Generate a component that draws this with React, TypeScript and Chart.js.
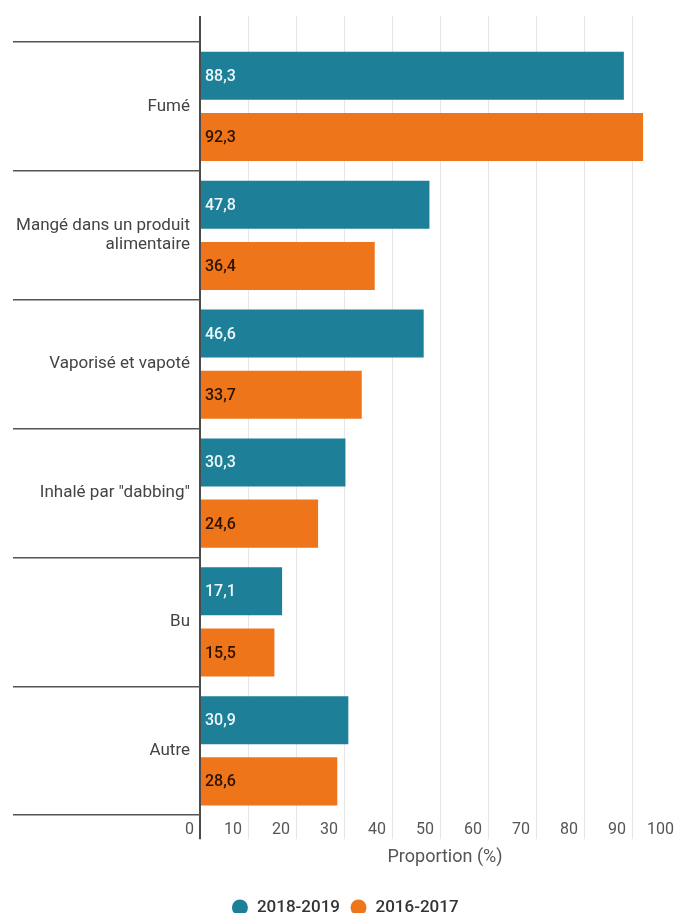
import React, { useEffect, useRef } from 'react';
import { Chart, registerables } from 'chart.js';

Chart.register(...registerables);

const CATEGORIES: (string | string[])[] = [
  'Fumé',
  ['Mangé dans un produit', 'alimentaire'],
  'Vaporisé et vapoté',
  'Inhalé par "dabbing"',
  'Bu',
  'Autre',
];
const SERIES_NAMES = ['2018-2019', '2016-2017'];
const VALUES_2018_2019 = [88.3, 47.8, 46.6, 30.3, 17.1, 30.9];
const VALUES_2016_2017 = [92.3, 36.4, 33.7, 24.6, 15.5, 28.6];
const X_TICKS = [0, 10, 20, 30, 40, 50, 60, 70, 80, 90, 100];
const X_MIN = 0;
const X_MAX = 102.08;
const AXIS_TITLE = 'Proportion (%)';

const TEAL = '#1e7f98';
const ORANGE = '#ee7519';
const LABEL_COLORS = ['#eef8fa', '#2a1300'];
const DARK_LINE = '#4a4a4a';
const LIGHT_LINE = '#e6e6e6';
const FONT = 'Roboto';

const fmt = (v: number) => v.toFixed(1).replace('.', ',');

const barLabelPlugin = {
  id: 'barLabels',
  afterDatasetsDraw(chart: any) {
    const ctx = chart.ctx;
    chart.data.datasets.forEach((ds: any, di: number) => {
      const meta = chart.getDatasetMeta(di);
      if (meta.hidden) return;
      meta.data.forEach((el: any, i: number) => {
        const v = ds.data[i];
        const { base, y } = el.getProps(['base', 'y'], true);
        ctx.save();
        ctx.font = `500 16px ${FONT}`;
        ctx.fillStyle = LABEL_COLORS[di];
        ctx.textAlign = 'left';
        ctx.textBaseline = 'middle';
        ctx.fillText(fmt(v), base + 4, y + 1);
        ctx.restore();
      });
    });
  },
};

const gridColor = (c: any) => (c.tick && c.tick.value === 0 ? DARK_LINE : LIGHT_LINE);
const gridWidth = (c: any) => (c.tick && c.tick.value === 0 ? 2 : 1);
const setTicks = (s: any) => {
  s.ticks = X_TICKS.map((value) => ({ value }));
};

export default function App() {
  const ref = useRef<HTMLCanvasElement | null>(null);

  useEffect(() => {
    if (!ref.current) return;
    const chart = new Chart(ref.current, {
      type: 'bar',
      data: {
        labels: CATEGORIES as any,
        datasets: [
          {
            label: SERIES_NAMES[0],
            data: VALUES_2018_2019,
            backgroundColor: TEAL,
            borderWidth: 0,
            categoryPercentage: 0.95,
            barPercentage: 0.785,
          },
          {
            label: SERIES_NAMES[1],
            data: VALUES_2016_2017,
            backgroundColor: ORANGE,
            borderWidth: 0,
            categoryPercentage: 0.95,
            barPercentage: 0.785,
          },
        ],
      },
      options: {
        indexAxis: 'y',
        responsive: false,
        maintainAspectRatio: false,
        animation: false,
        devicePixelRatio: 1,
        layout: { padding: { top: 16, right: 8, left: 0, bottom: 0 } },
        scales: {
          x: {
            type: 'linear',
            position: 'bottom',
            min: X_MIN,
            max: X_MAX,
            afterBuildTicks: setTicks,
            border: { display: false },
            grid: { color: gridColor, lineWidth: gridWidth, drawTicks: true, tickLength: 24 },
            ticks: {
              align: 'end',
              labelOffset: -6,
              padding: -19,
              maxRotation: 0,
              autoSkip: false,
              color: '#555',
              font: { family: FONT, size: 16 },
              callback: (v: any) => String(v),
            },
            title: {
              display: true,
              text: AXIS_TITLE,
              color: '#555',
              font: { family: FONT, size: 18 },
              padding: { top: 26.3, bottom: 20.7 },
            },
          },
          x2: {
            type: 'linear',
            position: 'top',
            min: X_MIN,
            max: X_MAX,
            afterBuildTicks: setTicks,
            border: { display: false },
            grid: {
              color: gridColor,
              lineWidth: gridWidth,
              drawOnChartArea: false,
              drawTicks: true,
              tickLength: 26,
            },
            ticks: { display: false },
          },
          y: {
            type: 'category',
            position: 'left',
            afterFit: (s: any) => {
              s.width = 200;
            },
            border: { display: false },
            grid: {
              offset: true,
              drawOnChartArea: false,
              drawTicks: true,
              tickLength: 187,
              color: '#555',
              lineWidth: 1.5,
            },
            ticks: {
              autoSkip: false,
              padding: -177,
              color: '#444',
              font: { family: FONT, size: 17, lineHeight: 1.15 },
            },
          },
        } as any,
        plugins: {
          legend: {
            position: 'bottom',
            labels: {
              usePointStyle: true,
              pointStyle: 'circle',
              boxWidth: 17,
              boxHeight: 11.3,
              padding: 10,
              color: '#333',
              font: { family: FONT, size: 17, weight: '500' } as any,
            },
          },
          tooltip: { enabled: false },
        },
      },
      plugins: [barLabelPlugin],
    });
    return () => chart.destroy();
  }, []);

  return (
    <div
      style={{
        position: 'absolute',
        left: 0,
        top: 0,
        width: 677,
        height: 913,
        overflow: 'hidden',
        background: '#fff',
      }}
    >
      <canvas ref={ref} width={698} height={926} style={{ display: 'block' }} />
    </div>
  );
}
